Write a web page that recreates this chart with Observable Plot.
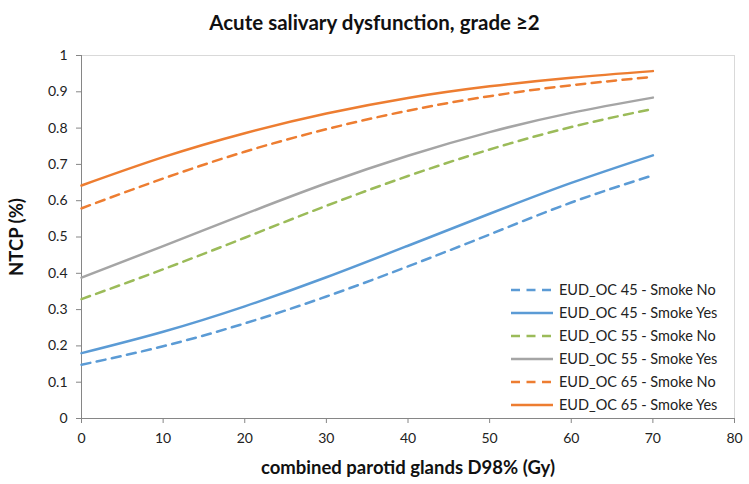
<!DOCTYPE html>
<html>
<head>
<meta charset="utf-8">
<script src="https://cdn.jsdelivr.net/npm/d3@7"></script>
<script src="https://cdn.jsdelivr.net/npm/@observablehq/plot@0.6"></script>
<style>
  body { margin: 0; background: #fff; font-family: Lato, "Open Sans", sans-serif; }
  #wrap { position: relative; width: 749px; height: 484px; }
  #title { height: 44px; line-height: 44px; text-align: center; font-weight: bold; font-size: 20.5px; color: #111; }
  #legend { position: absolute; left: 510px; top: 278px; font-size: 14.5px; color: #222; }
  .row { height: 23px; display: flex; align-items: center; }
  .row svg { margin-right: 5px; }
</style>
</head>
<body>
<div id="wrap">
  <div id="title">Acute salivary dysfunction, grade ≥2</div>
  <div id="chart"></div>
  <div id="legend"></div>
</div>
<script>
// Data
const dose = [0, 10, 20, 30, 40, 50, 60, 70];
const oc45No  = [0.148, 0.199, 0.262, 0.336, 0.419, 0.507, 0.595, 0.670];
const oc45Yes = [0.180, 0.239, 0.309, 0.389, 0.476, 0.564, 0.649, 0.725];
const oc55No  = [0.329, 0.411, 0.498, 0.586, 0.668, 0.741, 0.803, 0.853];
const oc55Yes = [0.388, 0.475, 0.563, 0.648, 0.724, 0.789, 0.842, 0.884];
const oc65No  = [0.579, 0.661, 0.735, 0.797, 0.848, 0.888, 0.918, 0.941];
const oc65Yes = [0.642, 0.720, 0.786, 0.840, 0.883, 0.915, 0.939, 0.957];
const seriesNames = [
  "EUD_OC 45 - Smoke No", "EUD_OC 45 - Smoke Yes",
  "EUD_OC 55 - Smoke No", "EUD_OC 55 - Smoke Yes",
  "EUD_OC 65 - Smoke No", "EUD_OC 65 - Smoke Yes"
];
const seriesValues = [oc45No, oc45Yes, oc55No, oc55Yes, oc65No, oc65Yes];
const xTicks = [0, 10, 20, 30, 40, 50, 60, 70, 80];
const yTicks = [0, 0.1, 0.2, 0.3, 0.4, 0.5, 0.6, 0.7, 0.8, 0.9, 1];

// styles
const colors = ["#5B9BD5", "#5B9BD5", "#9BBB59", "#A5A5A5", "#ED7D31", "#ED7D31"];
const dashed = [true, false, true, false, true, false];
const dashPattern = "9,6.5";

const rows = [];
seriesNames.forEach((name, i) => {
  dose.forEach((d, j) => rows.push({series: name, dose: d, ntcp: seriesValues[i][j]}));
});

const lineMarks = seriesNames.map((name, i) =>
  Plot.line(rows.filter(r => r.series === name), {
    x: "dose", y: "ntcp", stroke: colors[i], strokeWidth: 2.5,
    strokeDasharray: dashed[i] ? dashPattern : null, curve: "natural"
  })
);

const axisColor = "#868686";
const chart = Plot.plot({
  width: 749,
  height: 440,
  marginLeft: 81,
  marginRight: 15,
  marginTop: 11,
  marginBottom: 66,
  style: { fontFamily: "Lato, 'Open Sans', sans-serif", fontSize: "14px", color: "#222", background: "#fff" },
  x: { domain: [0, 80] },
  y: { domain: [0, 1] },
  marks: [
    Plot.frame({ stroke: "#D9D9D9" }),
    Plot.axisX({ ticks: xTicks, tickSize: 5, tickPadding: 10, stroke: axisColor, fontSize: 14,
      label: "combined parotid glands D98% (Gy)", labelAnchor: "center", labelArrow: "none", labelOffset: 55 }),
    Plot.axisY({ ticks: yTicks, tickSize: 5, tickPadding: 9, stroke: axisColor, fontSize: 14,
      tickFormat: d => String(d),
      label: "NTCP (%)", labelAnchor: "center", labelArrow: "none", labelOffset: 72 }),
    Plot.ruleY([0], { stroke: axisColor }),
    Plot.ruleX([0], { stroke: axisColor }),
    ...lineMarks
  ]
});
d3.select(chart).selectAll("g[aria-label='x-axis label'] text, g[aria-label='y-axis label'] text")
  .style("font-weight", "bold").style("font-size", "18.5px").attr("fill", "#111");
document.getElementById("chart").appendChild(chart);

// legend
const legend = d3.select("#legend");
seriesNames.forEach((name, i) => {
  const row = legend.append("div").attr("class", "row");
  const s = row.append("svg").attr("width", 44).attr("height", 10);
  s.append("line").attr("x1", 1).attr("x2", 43).attr("y1", 5).attr("y2", 5)
    .attr("stroke", colors[i]).attr("stroke-width", 2.5)
    .attr("stroke-dasharray", dashed[i] ? dashPattern : null);
  row.append("span").text(name);
});
</script>
</body>
</html>
